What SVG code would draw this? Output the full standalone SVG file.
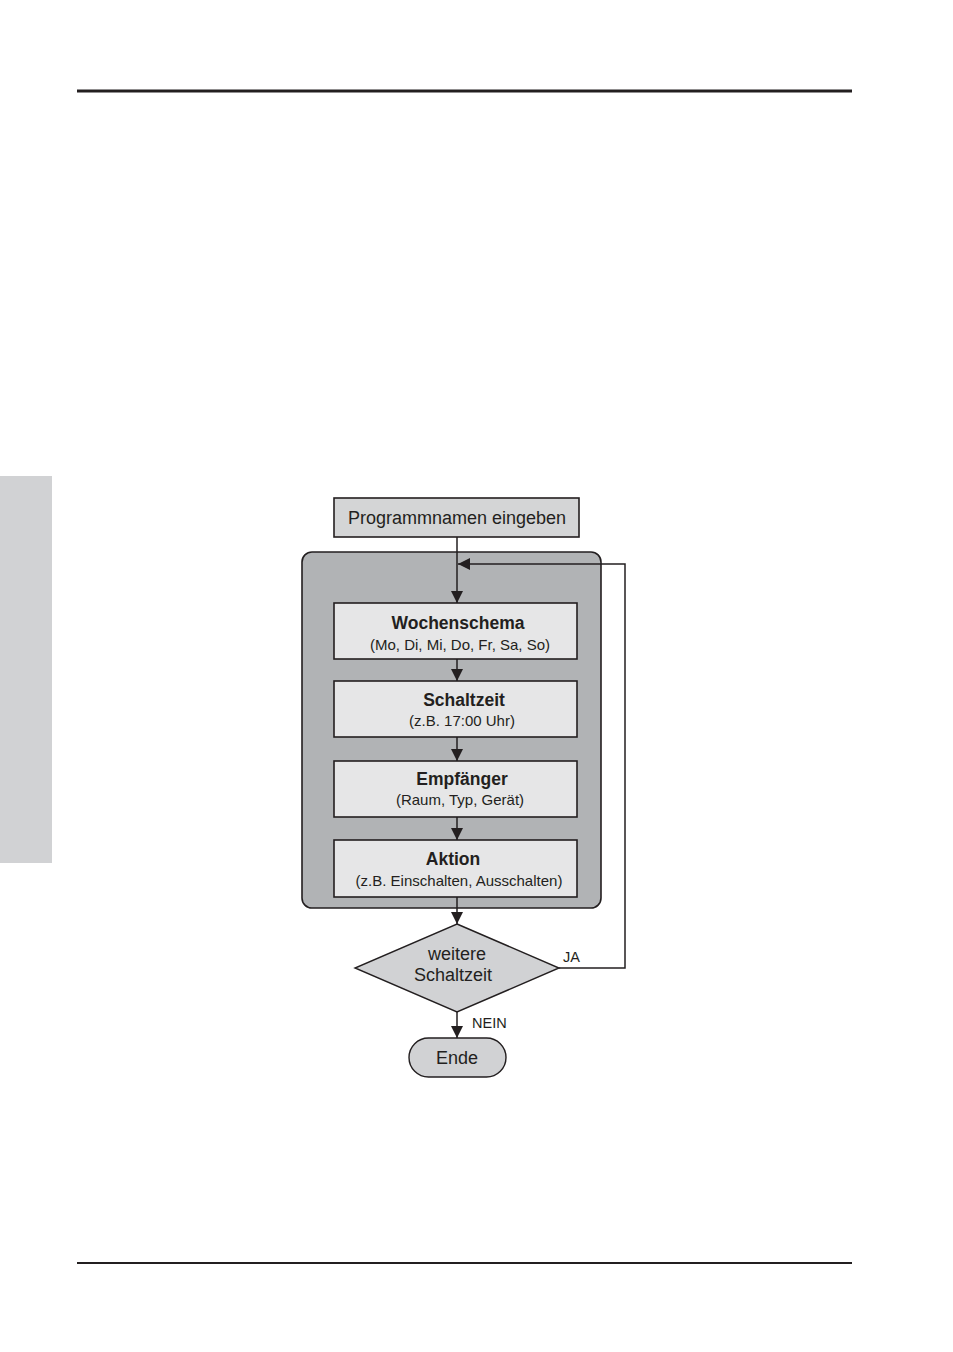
<svg xmlns="http://www.w3.org/2000/svg" width="953" height="1352" viewBox="0 0 953 1352">
<style>
text{font-family:"Liberation Sans",Arial,sans-serif;fill:#231f20;text-anchor:middle}
.t{font-size:18px}
.b{font-size:17.5px;font-weight:bold}
.s{font-size:15px}
.l{font-size:14.5px;text-anchor:start}
.box{fill:#e6e6e7;stroke:#231f20;stroke-width:1.6}
.c{fill:none;stroke:#231f20;stroke-width:1.5}
</style>
<defs>
<marker id="a" viewBox="0 0 12 12" refX="12" refY="6" markerWidth="12" markerHeight="12" markerUnits="userSpaceOnUse" orient="auto">
<path d="M0,0 L12,6 L0,12 z" fill="#231f20"/>
</marker>
</defs>
<rect x="77" y="89.5" width="775" height="3" fill="#231f20"/>
<rect x="77" y="1262" width="775" height="2" fill="#231f20"/>
<rect x="0" y="476" width="52" height="387" fill="#d1d2d4"/>
<g id="container"><rect x="302" y="552" width="299" height="356" rx="10" fill="#b1b3b5" stroke="#231f20" stroke-width="1.6"/></g>
<g id="start"><rect x="334" y="498" width="245" height="39" fill="#d4d5d6" stroke="#231f20" stroke-width="1.6"/><text class="t" x="457" y="524">Programmnamen eingeben</text></g>
<g id="wochenschema"><rect class="box" x="334" y="603" width="243" height="56"/><text class="b" x="458" y="629">Wochenschema</text><text class="s" x="460" y="650">(Mo, Di, Mi, Do, Fr, Sa, So)</text></g>
<g id="schaltzeit"><rect class="box" x="334" y="681" width="243" height="56"/><text class="b" x="464" y="706">Schaltzeit</text><text class="s" x="462" y="726">(z.B. 17:00 Uhr)</text></g>
<g id="empfaenger"><rect class="box" x="334" y="761" width="243" height="56"/><text class="b" x="462" y="785">Empfänger</text><text class="s" x="460" y="805">(Raum, Typ, Gerät)</text></g>
<g id="aktion"><rect class="box" x="334" y="840" width="243" height="57"/><text class="b" x="453" y="865">Aktion</text><text class="s" x="459" y="886">(z.B. Einschalten, Ausschalten)</text></g>
<g id="decision"><polygon points="457,924 559,968 457,1012 355,968" fill="#d1d2d4" stroke="#231f20" stroke-width="1.4"/><text class="t" x="457" y="960">weitere</text><text class="t" x="453" y="981">Schaltzeit</text></g>
<g id="ende"><rect x="409" y="1038" width="97" height="39" rx="19.5" fill="#d1d2d4" stroke="#231f20" stroke-width="1.4"/><text class="t" x="457" y="1064">Ende</text></g>
<g id="connectors">
<path class="c" d="M457,537 V603" marker-end="url(#a)"/>
<path class="c" d="M559,968 H625 V564 H458" marker-end="url(#a)"/>
<path class="c" d="M457,659 V681" marker-end="url(#a)"/>
<path class="c" d="M457,737 V761" marker-end="url(#a)"/>
<path class="c" d="M457,817 V840" marker-end="url(#a)"/>
<path class="c" d="M457,897 V924" marker-end="url(#a)"/>
<path class="c" d="M457,1012 V1038" marker-end="url(#a)"/>
<text class="l" x="563" y="962">JA</text>
<text class="l" x="472" y="1028">NEIN</text>
</g>
</svg>
